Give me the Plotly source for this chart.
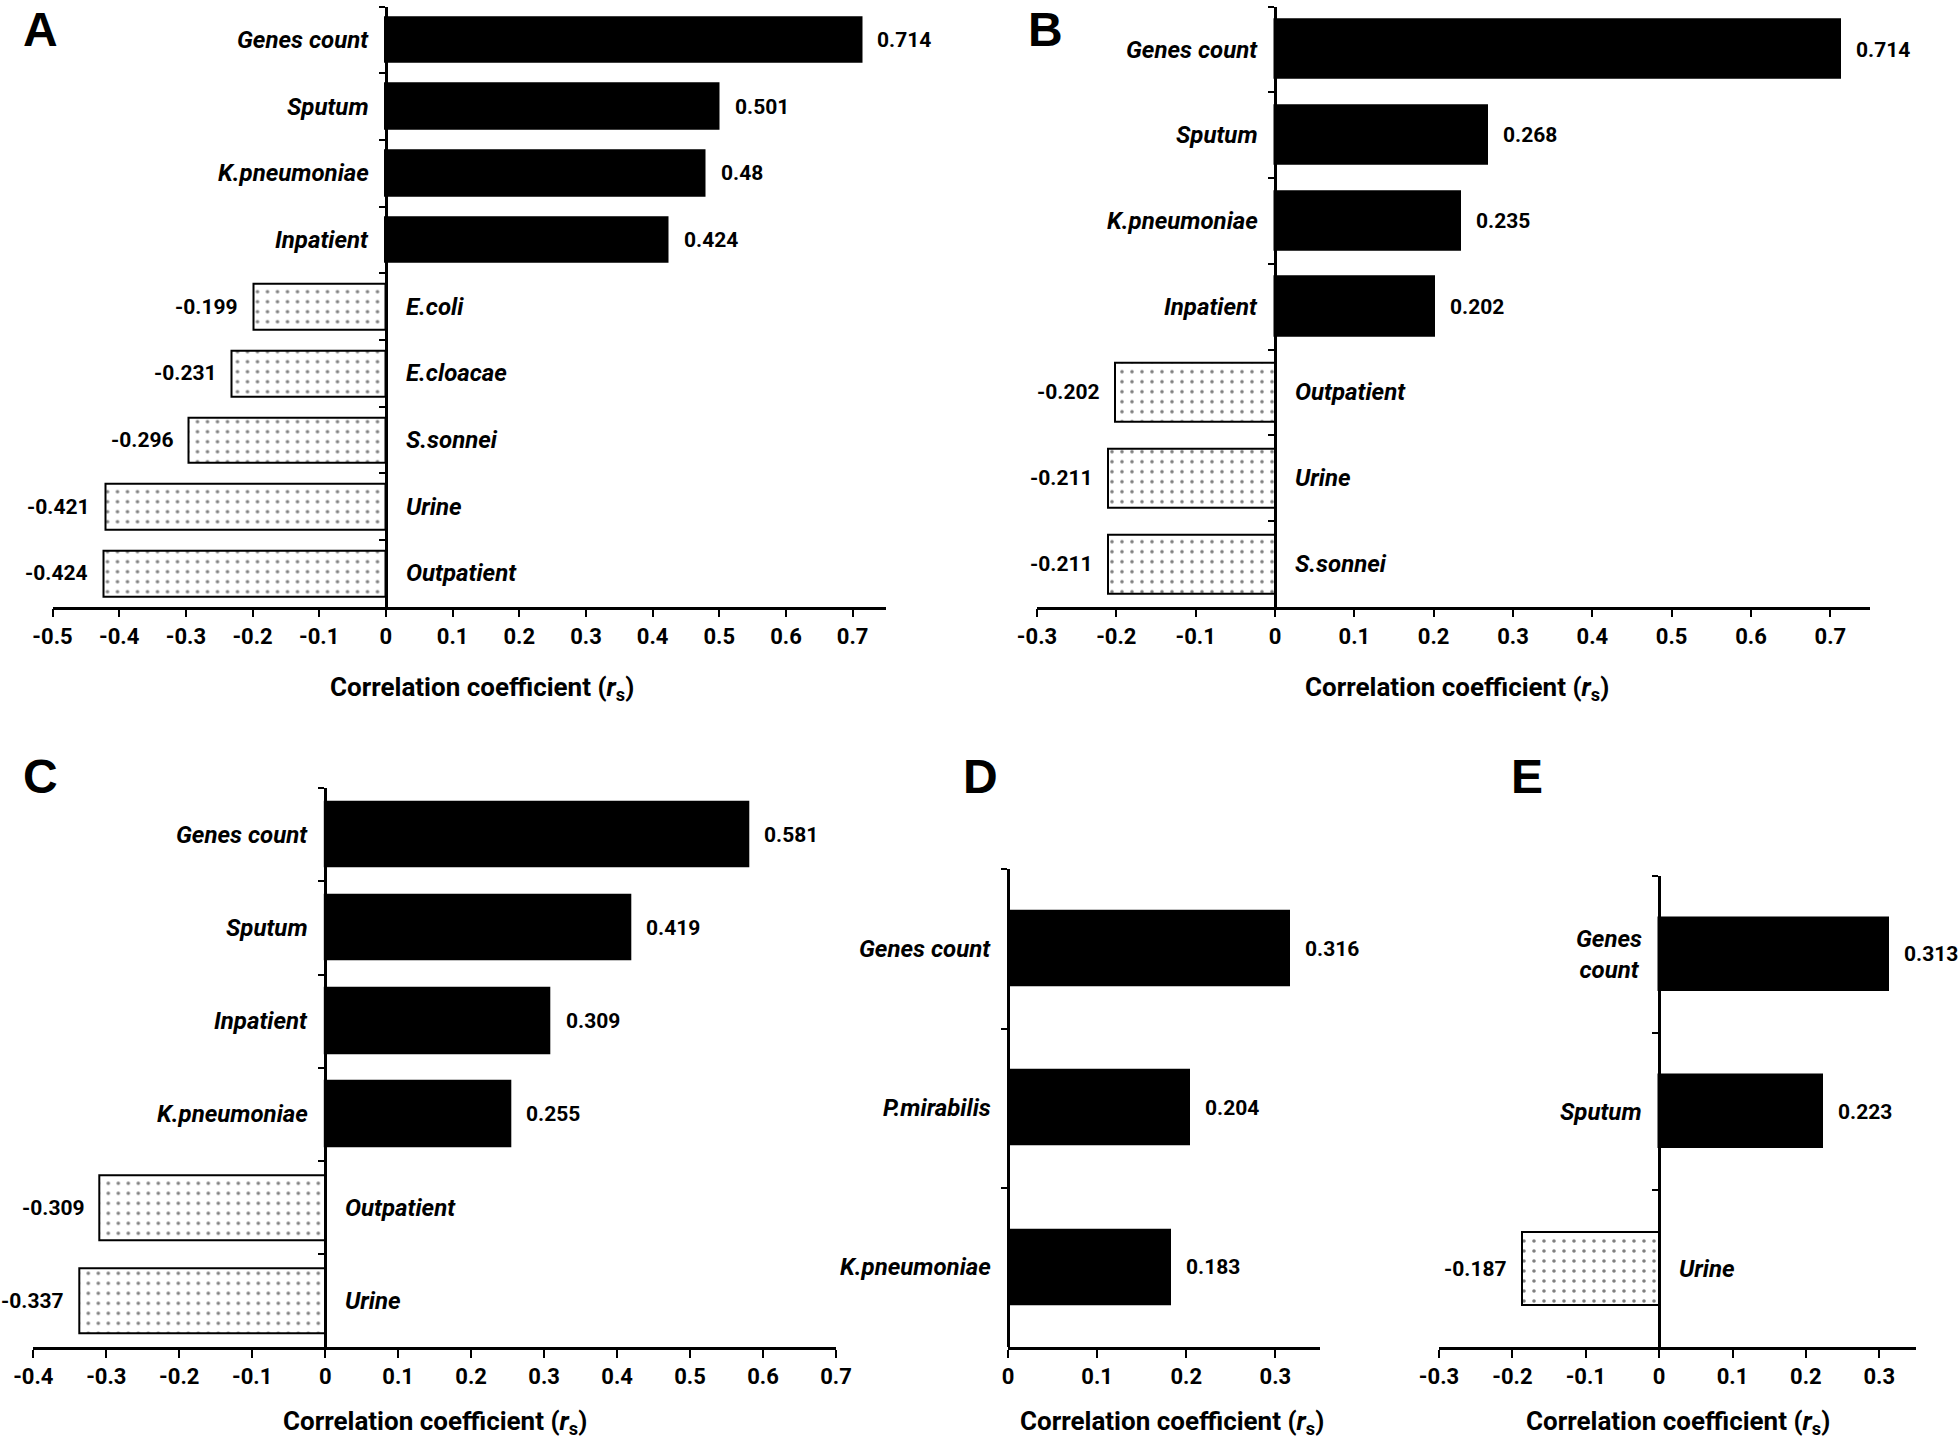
import plotly.graph_objects as go

W, H = 1959, 1440

# ---------------- data ----------------
a_labels = ["Genes count", "Sputum", "K.pneumoniae", "Inpatient", "E.coli",
            "E.cloacae", "S.sonnei", "Urine", "Outpatient"]
a_values = [0.714, 0.501, 0.48, 0.424, -0.199, -0.231, -0.296, -0.421, -0.424]
a_ticks = [-0.5, -0.4, -0.3, -0.2, -0.1, 0, 0.1, 0.2, 0.3, 0.4, 0.5, 0.6, 0.7]

b_labels = ["Genes count", "Sputum", "K.pneumoniae", "Inpatient",
            "Outpatient", "Urine", "S.sonnei"]
b_values = [0.714, 0.268, 0.235, 0.202, -0.202, -0.211, -0.211]
b_ticks = [-0.3, -0.2, -0.1, 0, 0.1, 0.2, 0.3, 0.4, 0.5, 0.6, 0.7]

c_labels = ["Genes count", "Sputum", "Inpatient", "K.pneumoniae",
            "Outpatient", "Urine"]
c_values = [0.581, 0.419, 0.309, 0.255, -0.309, -0.337]
c_ticks = [-0.4, -0.3, -0.2, -0.1, 0, 0.1, 0.2, 0.3, 0.4, 0.5, 0.6, 0.7]

d_labels = ["Genes count", "P.mirabilis", "K.pneumoniae"]
d_values = [0.316, 0.204, 0.183]
d_ticks = [0, 0.1, 0.2, 0.3]

e_labels = ["Genes<br>count", "Sputum", "Urine"]
e_values = [0.313, 0.223, -0.187]
e_ticks = [-0.3, -0.2, -0.1, 0, 0.1, 0.2, 0.3]

# ---------------- layout geometry (pixels) ----------------
panels = [
    dict(letter="A", labels=a_labels, values=a_values, ticks=a_ticks, xr=[-0.5, 0.75],
         px=(52.5, 886), py=(6.7, 606.7), bw=0.685, lpos=(40, 1), tpos=(482, 688)),
    dict(letter="B", labels=b_labels, values=b_values, ticks=b_ticks, xr=[-0.3, 0.75],
         px=(1037, 1870), py=(6.7, 606.7), bw=0.69, lpos=(1045, 1), tpos=(1457, 688)),
    dict(letter="C", labels=c_labels, values=c_values, ticks=c_ticks, xr=[-0.4, 0.7],
         px=(33.3, 836), py=(788.3, 1347.3), bw=0.70, lpos=(40, 748), tpos=(435, 1422)),
    dict(letter="D", labels=d_labels, values=d_values, ticks=d_ticks, xr=[0, 0.35],
         px=(1008, 1320), py=(869.3, 1347), bw=0.47, lpos=(981, 748), tpos=(1172, 1422)),
    dict(letter="E", labels=e_labels, values=e_values, ticks=e_ticks, xr=[-0.3, 0.35],
         px=(1439, 1916), py=(876, 1347), bw=0.47, lpos=(1527, 748), tpos=(1678, 1422)),
]

FONT = "Roboto, Liberation Sans, sans-serif"
fig = go.Figure()
annotations = []
layout = {}

for i, p in enumerate(panels, start=1):
    sfx = "" if i == 1 else str(i)
    xa, ya = "x" + sfx, "y" + sfx
    labels, values = p["labels"], p["values"]
    n = len(labels)

    pos_lab = [l for l, v in zip(labels, values) if v >= 0]
    pos_val = [v for v in values if v >= 0]
    neg_lab = [l for l, v in zip(labels, values) if v < 0]
    neg_val = [v for v in values if v < 0]

    fig.add_trace(go.Bar(x=pos_val, y=pos_lab, orientation="h", width=p["bw"],
                         marker=dict(color="black", line=dict(color="black", width=1.5)),
                         xaxis=xa, yaxis=ya, showlegend=False))
    if neg_val:
        fig.add_trace(go.Bar(x=neg_val, y=neg_lab, orientation="h", width=p["bw"],
                             marker=dict(color="white", line=dict(color="black", width=2),
                                         pattern=dict(shape=".", fgcolor="black", bgcolor="white",
                                                      size=10, solidity=0.1)),
                             xaxis=xa, yaxis=ya, showlegend=False))

    x0, x1 = p["px"][0] / W, p["px"][1] / W
    y0, y1 = 1 - p["py"][1] / H, 1 - p["py"][0] / H
    xmin, xmax = p["xr"]
    zero_pos = x0 + (0 - xmin) / (xmax - xmin) * (x1 - x0)

    layout["xaxis" + sfx] = dict(
        domain=[x0, x1], range=[xmin, xmax], anchor=ya, automargin=False,
        showline=True, linecolor="black", linewidth=2.5, mirror=False,
        ticks="outside", ticklen=8, tickwidth=2, tickcolor="black",
        tickvals=p["ticks"], ticktext=[f"{t:g}" for t in p["ticks"]],
        tickfont=dict(family=FONT, size=22, color="black", weight="bold"),
        showgrid=False, zeroline=False, fixedrange=True)
    layout["yaxis" + sfx] = dict(
        domain=[y0, y1], type="category", categoryorder="array", categoryarray=labels,
        range=[n - 0.5, -0.5], anchor="free", position=zero_pos, automargin=False,
        showline=True, linecolor="black", linewidth=2.5,
        ticks="outside", ticklen=6, tickwidth=2, tickcolor="black",
        tickson="boundaries", showticklabels=False, showgrid=False, zeroline=False)

    for lab, v in zip(labels, values):
        # category label next to the zero axis, on the opposite side of the bar
        annotations.append(dict(
            x=0, y=lab, xref=xa, yref=ya, text=lab, showarrow=False,
            xanchor="right" if v >= 0 else "left", xshift=-15 if v >= 0 else 18,
            align="center",
            font=dict(family=FONT, size=24, color="black", weight="bold", style="italic")))
        # value label at bar end
        annotations.append(dict(
            x=v, y=lab, xref=xa, yref=ya, text=f"{v:g}", showarrow=False,
            xanchor="left" if v >= 0 else "right", xshift=13 if v >= 0 else -13,
            font=dict(family=FONT, size=21, color="black", weight="bold")))

    # panel letter
    annotations.append(dict(
        x=p["lpos"][0] / W, y=1 - p["lpos"][1] / H, xref="paper", yref="paper",
        text=p["letter"], showarrow=False, xanchor="center", yanchor="top",
        font=dict(family="Liberation Sans, Arial, sans-serif", size=48, color="black", weight="bold")))
    # axis title
    annotations.append(dict(
        x=p["tpos"][0] / W, y=1 - p["tpos"][1] / H, xref="paper", yref="paper",
        text="Correlation coefficient (<i>r</i><sub>s</sub>)", showarrow=False,
        xanchor="center", yanchor="middle",
        font=dict(family=FONT, size=26, color="black", weight="bold")))

fig.update_layout(
    width=W, height=H, margin=dict(l=0, r=0, t=0, b=0, autoexpand=False),
    paper_bgcolor="white", plot_bgcolor="white",
    barmode="overlay", bargap=0, annotations=annotations, **layout)

fig.write_html("out.html", config={"displayModeBar": False},
               post_script="document.body.style.margin='0';")
